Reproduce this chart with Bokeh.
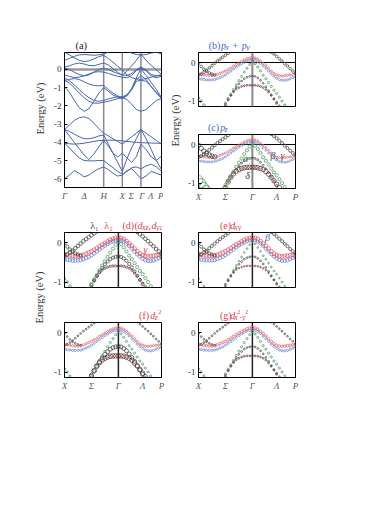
import numpy as np
from bokeh.plotting import figure
from bokeh.layouts import column, row
from bokeh.models import Range1d, FixedTicker, Span, Label, Spacer
from bokeh.embed import file_html
from bokeh.resources import INLINE

nan = float("nan")
FONT = "Liberation Serif"

# ---------------- panel (a): full band structure ----------------
KA = [0, 5, 10, 15, 20, 25, 30, 35, 40, 44.75, 49.5, 54.25, 59, 63.75, 68.5, 73.25, 78, 83.25, 88.5, 93.75, 99]
KA_TICKS = [0, 20, 40, 59, 68, 79, 88, 99]
KA_LABELS = ["Γ", "Δ", "H", "X", "Σ", "Γ", "Λ", "P"]
KA_LINES = [40, 59, 78]
YA_TICKS = [0, -1, -2, -3, -4, -5, -6]

A_T1 = [0.95, 0.80, 0.63, 0.50, 0.43, 0.47, 0.58, 0.70, 0.78, 0.60, 0.40, 0.18, -0.02, -0.30, -0.45, -0.52, -0.55, -0.50, -0.42, -0.36, -0.32]
A_T2 = [0.50, 0.60, 0.72, 0.80, 0.82, 0.80, 0.78, 0.80, 0.85, 0.95, 1.05, 1.10, 1.10, 1.00, 0.90, 0.82, 0.80, 0.82, 0.90, 0.95, 0.85]
A_T3 = [0.13, 0.20, 0.30, 0.35, 0.30, 0.22, 0.20, 0.28, 0.35, 0.25, 0.05, -0.15, -0.33, -0.08, 0.19, 0.50, 0.85, 0.50, 0.22, -0.03, -0.28]
A_R = [0.08, 0.00, -0.15, -0.28, -0.35, -0.30, -0.15, 0.00, 0.08, 0.00, -0.12, -0.22, -0.29, -0.34, -0.22, -0.01, 0.13, -0.02, -0.28, -0.34, -0.30]
A_B = [-0.30, -0.38, -0.45, -0.42, -0.35, -0.25, -0.15, -0.12, -0.15, -0.22, -0.30, -0.37, -0.42, -0.45, -0.32, -0.07, 0.07, -0.08, -0.35, -0.46, -0.37]
A_G1 = [-0.60, -0.55, -0.50, -0.55, -0.68, -0.80, -0.88, -0.90, -0.88, -1.10, -1.30, -1.45, -1.55, -1.40, -1.05, -0.47, 0.03, -0.33, -0.72, -1.10, -1.55]
A_K2 = [-0.95, -1.25, -1.70, -2.10, -2.30, -2.15, -1.75, -1.30, -1.00, -1.20, -1.40, -1.52, -1.60, -1.45, -1.08, -0.55, -0.35, -0.54, -0.95, -1.30, -1.60]
A_K3 = [-0.45, -0.62, -0.85, -1.10, -1.35, -1.55, -1.70, -1.75, -1.70, -1.62, -1.55, -1.50, -1.50, -1.40, -1.12, -0.65, -0.59, -0.65, -0.94, -1.25, -1.50]
A_U1 = [-0.60, -0.75, -1.00, -1.30, -1.55, -1.75, -1.85, -1.85, -1.80, -1.75, -1.68, -1.60, -1.55, -1.65, -1.90, -2.20, -2.30, -2.20, -1.95, -1.70, -1.60]
A_L1 = [-3.30, -3.05, -2.80, -2.65, -2.60, -2.70, -2.95, -3.25, -3.50, -3.65, -3.80, -3.95, -4.10, -3.90, -3.70, -3.50, -3.30, -3.50, -3.70, -3.90, -4.10]
A_L2 = [-3.30, -3.40, -3.55, -3.70, -3.80, -3.80, -3.75, -3.65, -3.60, -4.10, -4.60, -5.10, -5.60, -4.90, -4.30, -3.80, -3.30, -3.80, -4.40, -5.00, -5.50]
A_L3 = [-4.05, -4.08, -4.10, -4.08, -4.05, -4.00, -3.95, -3.90, -3.90, -3.88, -3.88, -3.90, -3.92, -3.95, -3.98, -4.00, -4.02, -4.03, -4.04, -4.05, -4.05]
A_L4 = [-3.30, -3.65, -4.00, -4.35, -4.70, -4.95, -4.65, -4.25, -3.90, -4.20, -4.60, -4.80, -4.60, -4.85, -5.10, -4.80, -4.10, -4.40, -4.80, -5.00, -4.75]
A_L5 = [-4.05, -4.30, -4.60, -4.85, -5.00, -5.02, -5.02, -5.00, -5.00, -5.20, -5.40, -5.60, -5.75, -5.60, -5.40, -5.35, -5.45, -5.30, -5.20, -5.35, -5.60]
A_L6 = [-6.00, -5.80, -5.55, -5.70, -5.90, -5.80, -5.60, -5.45, -5.35, -5.50, -5.70, -5.85, -5.80, -5.55, -5.45, -5.70, -6.00, -5.85, -5.60, -5.70, -5.80]
BANDS_A = [A_T1, A_T2, A_T3, A_R, A_B, A_G1, A_K2, A_K3, A_U1, A_L1, A_L2, A_L3, A_L4, A_L5, A_L6]

# ---------------- panels (b)-(g): fat bands near E_F ----------------
KZ = [0.00, 0.05, 0.10, 0.15, 0.20, 0.25, 0.30, 0.35, 0.40, 0.45, 0.50, 0.55, 0.60, 0.65, 0.70, 0.75, 0.80, 0.85, 0.90,
      0.95, 1.00, 1.05, 1.10, 1.15, 1.20, 1.25, 1.30, 1.35, 1.40, 1.45, 1.50, 1.55, 1.60, 1.65, 1.70, 1.75, 1.80]
Z_TICKS = [0, 0.5, 1.0, 1.45, 1.8]
Z_LABELS = ["X", "Σ", "Γ", "Λ", "P"]

R = [-0.29, -0.30, -0.32, -0.33, -0.34, -0.34, -0.33, -0.31, -0.28, -0.25, -0.22, -0.18, -0.14, -0.09, -0.05, -0.01, 0.03, 0.07, 0.10,
     0.12, 0.13, 0.12, 0.09, 0.04, -0.02, -0.08, -0.15, -0.22, -0.28, -0.32, -0.34, -0.35, -0.34, -0.33, -0.32, -0.31, -0.30]
B = [-0.42, -0.43, -0.44, -0.45, -0.45, -0.45, -0.44, -0.42, -0.39, -0.36, -0.32, -0.27, -0.22, -0.17, -0.12, -0.07, -0.03, 0.01, 0.04,
     0.06, 0.07, 0.06, 0.03, -0.02, -0.08, -0.15, -0.22, -0.29, -0.35, -0.40, -0.44, -0.46, -0.46, -0.45, -0.42, -0.39, -0.37]
G1 = [nan, nan, nan, nan, nan, nan, nan, nan, nan, -1.17, -1.05, -0.93, -0.82, -0.70, -0.58, -0.47, -0.36, -0.25, -0.15,
      -0.05, 0.03, -0.03, -0.12, -0.22, -0.33, -0.42, -0.52, -0.62, -0.72, -0.80, -0.90, -1.00, -1.10, -1.20, nan, nan, nan]
G2 = [-0.92, -1.00, -1.10, -1.18, nan, nan, nan, nan, nan, nan, nan, nan, nan, nan, nan, nan, nan, nan, nan,
      nan, nan, nan, nan, nan, nan, nan, nan, nan, nan, nan, nan, nan, nan, nan, nan, nan, nan]
K0 = [-0.02, -0.10, -0.17, -0.23, -0.27, -0.30, -0.32, nan, nan, nan, nan, nan, nan, nan, nan, nan, nan, nan, nan,
      nan, nan, nan, nan, nan, nan, nan, nan, nan, nan, nan, nan, nan, nan, nan, nan, nan, nan]
K1 = [-0.33, -0.30, -0.25, -0.20, -0.14, -0.08, -0.02, 0.04, 0.09, 0.14, 0.19, 0.24, 0.29, nan, nan, nan, nan, nan, nan,
      nan, nan, nan, nan, nan, nan, nan, nan, 0.27, 0.22, 0.16, 0.10, 0.04, -0.03, -0.09, -0.16, -0.22, -0.28]
K2 = [nan, nan, nan, nan, nan, nan, nan, nan, nan, -1.20, -1.08, -0.96, -0.85, -0.74, -0.64, -0.55, -0.48, -0.42, -0.38,
      -0.36, -0.35, -0.36, -0.40, -0.46, -0.54, -0.63, -0.73, -0.84, -0.95, -1.06, -1.17, nan, nan, nan, nan, nan, nan]
K3 = [nan, nan, nan, nan, nan, nan, nan, nan, nan, nan, -1.12, -0.97, -0.85, -0.76, -0.69, -0.65, -0.62, -0.60, -0.59,
      -0.59, -0.59, -0.59, -0.60, -0.62, -0.65, -0.70, -0.77, -0.85, -0.94, -1.03, -1.12, nan, nan, nan, nan, nan, nan]

BAND_ORDER = ["K3", "K2", "G1", "G2", "B", "R", "K0", "K1"]
BAND_DATA = {"K3": K3, "K2": K2, "G1": G1, "G2": G2, "B": B, "R": R, "K0": K0, "K1": K1}
# orbital weights (marker diameters) per panel, in BAND_ORDER
W_B = [1.8, 1.8, 2.2, 2.5, 2.2, 2.2, 2.6, 2.6]
W_C = [4.5, 2.0, 3.2, 9.0, 2.0, 2.0, 4.5, 3.0]
W_D = [2.2, 3.2, 3.2, 2.5, 3.8, 4.0, 3.2, 3.6]
W_E = [1.5, 1.8, 1.8, 1.8, 3.4, 4.0, 3.0, 3.0]
W_F = [4.6, 4.0, 2.2, 2.2, 2.2, 2.2, 1.8, 1.8]
W_G = [1.8, 1.8, 2.2, 2.2, 2.2, 2.6, 1.8, 1.8]

COL = {"R": "#e8505c", "B": "#5b7fd0", "G1": "#3f8f55", "G2": "#3f8f55",
       "K0": "#3a3a3a", "K1": "#3a3a3a", "K2": "#3a3a3a", "K3": "#5a2626"}
RED_T = "#e8404f"
BLUE_T = "#4466cc"
GRAY_T = "#333333"

ZY = (-1.14, 0.26)
ZX = (0, 1.8)
M = 8  # page margin added explicitly


def base_fig(fw, fh, l, r, t, b, xr, yr):
    p = figure(frame_width=fw, frame_height=fh, min_border_left=l, min_border_right=r,
               min_border_top=t, min_border_bottom=b, x_range=Range1d(*xr), y_range=Range1d(*yr),
               output_backend="svg", toolbar_location=None)
    p.grid.visible = False
    p.outline_line_color = "black"
    p.outline_line_width = 1
    p.background_fill_color = "white"
    p.border_fill_color = "white"
    return p


def style_y(p, ticks):
    ax = p.yaxis[0]
    ax.ticker = FixedTicker(ticks=ticks)
    ax.major_label_overrides = {t: ("0" if t == 0 else "-%d" % abs(t)) for t in ticks}
    ax.minor_tick_line_color = None
    ax.major_tick_in = 3
    ax.major_tick_out = 0
    ax.major_label_standoff = 3
    ax.major_label_text_font = FONT
    ax.major_label_text_font_size = "9px"
    ax.major_label_text_color = "#333333"
    ax.axis_line_color = "black"


def style_x(p, ticks, labels, show):
    ax = p.xaxis[0]
    if not show:
        ax.visible = False
        return
    ax.ticker = FixedTicker(ticks=ticks)
    ax.major_label_overrides = {t: s for t, s in zip(ticks, labels)}
    ax.minor_tick_line_color = None
    ax.major_tick_in = 0
    ax.major_tick_out = 0
    ax.major_label_standoff = 3
    ax.major_label_text_font = FONT
    ax.major_label_text_font_style = "italic"
    ax.major_label_text_font_size = "9px"
    ax.major_label_text_color = "#555555"


def to_data(frame, px, py):
    L, T, W, H, xr, yr = frame
    x = xr[0] + (px - L) / W * (xr[1] - xr[0])
    y = yr[1] - (py - T) / H * (yr[1] - yr[0])
    return x, y


def put(p, frame, px, py, text, size, color, style="normal", baseline="alphabetic", align="left", angle=0.0):
    x, y = to_data(frame, px, py)
    p.add_layout(Label(x=x, y=y, text=text, text_font=FONT, text_font_size="%.1fpx" % size, angle=angle,
                       text_color=color, text_font_style=style, text_baseline=baseline, text_align=align))


def strip(w, h, page_left, page_top, segs):
    """Blank text strip; segs = (text, page_x, page_y, size, style, color, angle)."""
    p = figure(width=w, height=h, min_border=0, x_range=Range1d(0, w), y_range=Range1d(0, h),
               output_backend="svg", toolbar_location=None, x_axis_location=None, y_axis_location=None)
    p.grid.visible = False
    p.outline_line_color = None
    frame = (page_left, page_top, w, h, (0, w), (0, h))
    for (text, px, py, size, style, color, angle) in segs:
        if angle:
            put(p, frame, px, py, text, size, color, style, "middle", "center", angle)
        else:
            put(p, frame, px, py, text, size, color, style)
    return p


ROT = np.pi / 2

# ---------------- figure (a) ----------------
FA = (64, 52, 97, 135, (0, 99), (-6.48, 0.93))
pa = base_fig(97, 135, 16, 2, 1, 20, FA[4], FA[5])
style_y(pa, YA_TICKS)
style_x(pa, KA_TICKS, KA_LABELS, True)
pa.add_layout(Span(location=0, dimension="width", line_color="#9a9a9a", line_width=2.5, level="underlay"))
for kx in KA_LINES:
    pa.add_layout(Span(location=kx, dimension="height", line_color="#8a8a8a", line_width=1.5, level="underlay"))
for band in BANDS_A:
    pa.line(KA, band, line_color="#4664b4", line_width=1.0)


def zpanel(frame, l, r, t, b, weights, show_x, zero_line, gamma_color, gamma_width):
    p = base_fig(97, frame[3], l, r, t, b, ZX, ZY)
    style_y(p, [0, -1])
    style_x(p, Z_TICKS, Z_LABELS, show_x)
    if zero_line:
        p.add_layout(Span(location=0, dimension="width", line_color="black", line_width=1, level="underlay"))
    p.add_layout(Span(location=1.0, dimension="height", line_color=gamma_color, line_width=gamma_width, level="underlay"))
    for name, w in zip(BAND_ORDER, weights):
        p.scatter(KZ, BAND_DATA[name], size=w, marker="circle", fill_color=None,
                  line_color=COL[name], line_width=0.7)
    return p


FB = (198, 52, 97, 54, ZX, ZY)
FC = (198, 134, 97, 54, ZX, ZY)
FD = (64, 232, 97, 55, ZX, ZY)
FE = (198, 232, 97, 55, ZX, ZY)
FF = (64, 322, 97, 55, ZX, ZY)
FG = (198, 322, 97, 55, ZX, ZY)

pb = zpanel(FB, 16, 10, 1, 10, W_B, False, True, "#8a8a8a", 2)
pc = zpanel(FC, 16, 10, 1, 19, W_C, True, True, "#8a8a8a", 2)
pd = zpanel(FD, 16, 4, 1, 15, W_D, False, False, "#222222", 1.5)
pe = zpanel(FE, 33, 10, 1, 15, W_E, False, False, "#222222", 1.5)
pf = zpanel(FF, 16, 4, 1, 22, W_F, True, False, "#222222", 1.5)
pg = zpanel(FG, 33, 10, 1, 22, W_G, True, False, "#222222", 1.5)

put(pc, FC, 245, 158, "α", 10, "#3f8f55", "italic", "middle", "center")
put(pc, FC, 277, 155, "β, γ", 10, "#555555", "italic", "middle", "center")
put(pc, FC, 247, 175, "δ", 10, "#333333", "italic", "middle", "center")
put(pd, FD, 145, 249, "γ", 10, RED_T, "italic", "middle", "center")
put(pe, FE, 267, 237, "β", 10, BLUE_T, "italic", "middle", "center")

# ---------------- text strips (titles, axis titles) ----------------
# page x: labA 8..48 | pa 48..163 | lab2 163..182 | pb/pc 182..305
labA = strip(40, 199, 8, 8, [("Energy (eV)", 40, 108, 10.5, "normal", GRAY_T, ROT)])
stA = strip(115, 43, 48, 8, [("(a)", 61, 45, 10.5, "normal", "#222222", 0)])
lab2 = strip(19, 199, 163, 8, [("Energy (eV)", 175, 120, 10.5, "normal", GRAY_T, ROT)])
stB = strip(123, 43, 182, 8, [("(b)", 195, 45, 10, "normal", BLUE_T, 0), ("p", 210.5, 45, 10, "italic", BLUE_T, 0),
                              ("x", 216, 46.5, 8, "italic", BLUE_T, 0), ("+", 225, 45, 10, "normal", BLUE_T, 0),
                              ("p", 237, 45, 10, "italic", BLUE_T, 0), ("y", 242.5, 46.5, 8, "italic", BLUE_T, 0)])
stC = strip(123, 17, 182, 116, [("(c)", 194, 127, 10, "normal", BLUE_T, 0), ("p", 209.5, 127, 10, "italic", BLUE_T, 0),
                                ("z", 215, 128.5, 8, "italic", BLUE_T, 0)])
# page x: lab3 8..48 | pd/pf 48..165 | pe/pg 165..305
lab3 = strip(40, 192, 8, 207, [("Energy (eV)", 39, 297, 10.5, "normal", GRAY_T, ROT)])
stD = strip(117, 24, 48, 207, [("λ₁", 79, 225, 10, "normal", "#444444", 0), ("λ₂", 96, 225, 10, "normal", RED_T, 0),
                               ("(d)", 118, 225, 10, "normal", RED_T, 0), ("(", 132.5, 225, 10, "normal", RED_T, 0),
                               ("d", 136, 225, 10, "italic", RED_T, 0), ("xz", 141.5, 226.5, 8, "italic", RED_T, 0),
                               (",", 149, 225, 10, "normal", RED_T, 0), ("d", 153, 225, 10, "italic", RED_T, 0),
                               ("yz", 158.5, 226.5, 8, "italic", RED_T, 0), (")", 166, 225, 10, "normal", RED_T, 0)])
stE = strip(140, 24, 165, 207, [("(e)", 196, 225, 10, "normal", RED_T, 0), ("d", 211, 225, 10, "italic", RED_T, 0),
                                ("xy", 216.5, 226.5, 8, "italic", RED_T, 0)])
stF = strip(117, 19, 48, 302, [("(f)", 138, 315, 10, "normal", RED_T, 0), ("d", 151.5, 315, 10, "italic", RED_T, 0),
                               ("z", 157, 316.5, 8, "italic", RED_T, 0), ("2", 161, 311, 6.5, "normal", RED_T, 0)])
stG = strip(140, 19, 165, 302, [("(g)", 196, 315, 10, "normal", RED_T, 0), ("d", 211, 315, 10, "italic", RED_T, 0),
                                ("x", 216.5, 316.5, 8, "italic", RED_T, 0), ("2", 220.5, 311, 6.5, "normal", RED_T, 0),
                                ("-y", 224, 316.5, 8, "italic", RED_T, 0), ("2", 232, 311, 6.5, "normal", RED_T, 0)])

body = column(
    row(labA, column(stA, pa), lab2, column(stB, pb, stC, pc)),
    row(lab3, column(stD, pd, stF, pf), column(stE, pe, stG, pg)),
)
layout = column(Spacer(height=M, width=10), row(Spacer(width=M, height=10), body))

open("out.html", "w").write(file_html(layout, INLINE))
